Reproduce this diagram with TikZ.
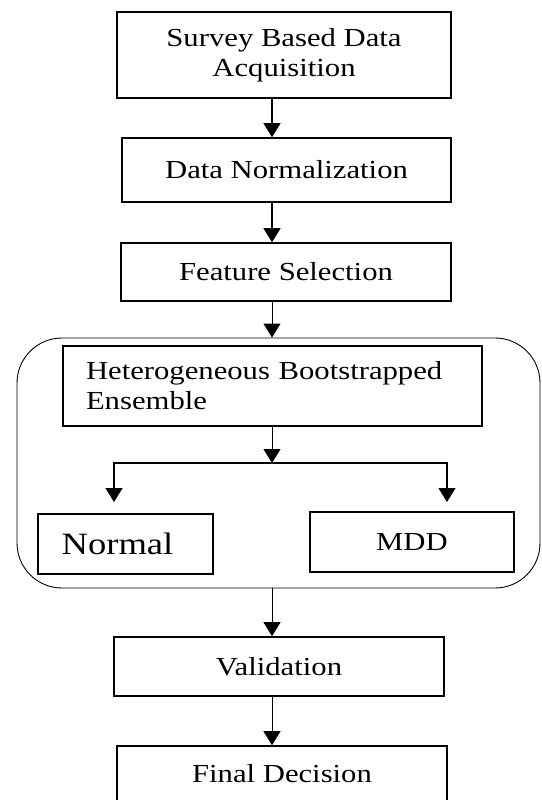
\documentclass[tikz,border=0pt]{standalone}
\usepackage{fontspec}
\setmainfont{Liberation Serif}[FakeStretch=1.18]
\usetikzlibrary{arrows.meta}
\begin{document}
\begin{tikzpicture}[x=1pt, y=-1pt,
  box/.style={draw, line width=1.6pt, inner sep=0pt, font=\fontsize{26}{30}\selectfont},
  frame/.style={draw, line width=0.9pt, rounded corners=45pt, inner sep=0pt},
  flow/.style={line width=1.4pt, -{Triangle[width=17pt,length=14pt]}},
  thinflow/.style={line width=1pt, -{Triangle[width=17pt,length=14pt]}}]
\useasboundingbox[fill=white] (0,0) rectangle (541,800);
\clip (0,0) rectangle (541,800);

% main pipeline boxes
\node[box, minimum width=334pt, minimum height=86pt, align=center] (acq) at (284,55) {Survey Based Data\\Acquisition};
\node[box, minimum width=329pt, minimum height=64pt] (norm) at (286.5,170) {Data Normalization};
\node[box, minimum width=330pt, minimum height=58pt] (feat) at (286,272) {Feature Selection};

% ensemble group
\node[frame, minimum width=523pt, minimum height=250pt] (ens) at (278.5,463) {};
\node[box, text width=373pt, inner xsep=23pt, minimum height=80pt, align=left] (hbe) at (272.5,386) {Heterogeneous Bootstrapped\\Ensemble};
\node[box, minimum width=175pt, minimum height=60pt, font=\fontsize{31}{36}\selectfont] (normal) at (125.5,544) {\hspace*{-16pt}Normal};
\node[box, minimum width=204pt, minimum height=60pt] (mdd) at (412,542) {MDD};

\node[box, minimum width=330pt, minimum height=59pt] (val) at (279,666.5) {Validation};
\node[box, minimum width=330pt, minimum height=56pt] (fin) at (282,774) {Final Decision};

% connector helpers
\coordinate (axis) at (272,0);
\coordinate (split) at (272,463);
\coordinate (ltip) at (114,502);
\coordinate (rtip) at (447,502);

\draw[flow] (acq.south -| axis) -- (norm.north -| axis);
\draw[flow] (norm.south -| axis) -- (feat.north -| axis);
\draw[thinflow] (feat.south -| axis) -- (ens.north -| axis);
\draw[thinflow] (hbe.south -| axis) -- (split);
\draw[flow] (split) -| (ltip);
\draw[flow] (split) -| (rtip);
\draw[thinflow] (ens.south -| axis) -- (val.north -| axis);
\draw[thinflow] (val.south -| axis) -- (fin.north -| axis);
\end{tikzpicture}
\end{document}
